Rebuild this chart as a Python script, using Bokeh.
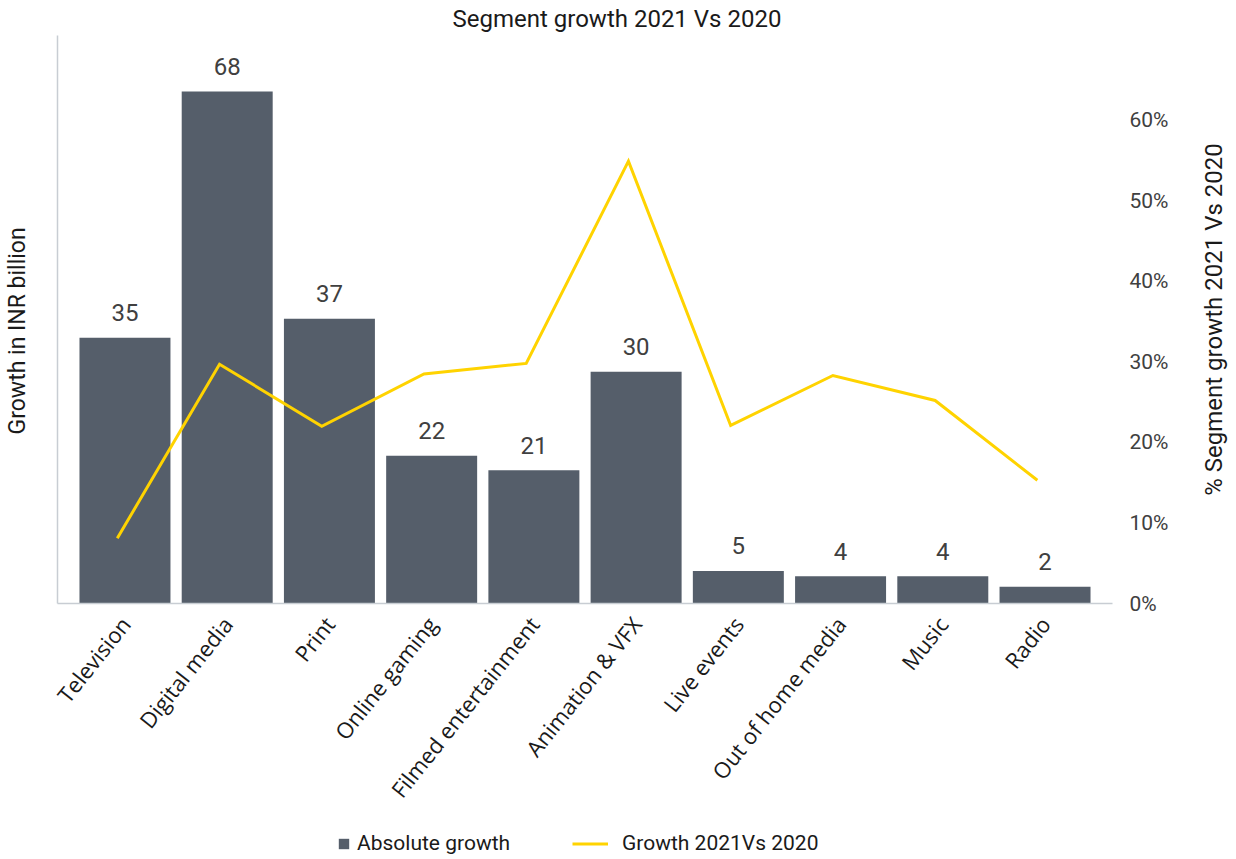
import math
from bokeh.plotting import figure
from bokeh.layouts import column, row
from bokeh.models import (ColumnDataSource, FactorRange, Range1d, LinearAxis, FixedTicker,
                          Legend, LegendItem, NumeralTickFormatter)
from bokeh.transform import dodge
from bokeh.core.properties import value
from bokeh.embed import file_html
from bokeh.resources import INLINE

categories = ["Television", "Digital media", "Print", "Online gaming", "Filmed entertainment",
              "Animation & VFX", "Live events", "Out of home media", "Music", "Radio"]
bar_heights = [35.1, 67.6, 37.6, 19.5, 17.6, 30.6, 4.3, 3.6, 3.6, 2.2]
bar_labels = ["35", "68", "37", "22", "21", "30", "5", "4", "4", "2"]
growth_pct = [0.081, 0.297, 0.220, 0.285, 0.298, 0.549, 0.221, 0.283, 0.252, 0.153]
pct_ticks = [0, 0.1, 0.2, 0.3, 0.4, 0.5, 0.6]

BAR_COLOR = "#555e6a"
LINE_COLOR = "#ffd300"
AXIS_COLOR = "#c8cdd3"
FONT = "Roboto"
PW = 1196
W = 1230
PH = 816
BOTTOM = PH - 603

src = ColumnDataSource(dict(cat=categories, h=bar_heights, lbl=bar_labels, pct=growth_pct))

p = figure(width=PW, height=PH,
           x_range=FactorRange(factors=categories, range_padding=0.16, range_padding_units="absolute"),
           y_range=Range1d(0, 75),
           output_backend="svg", toolbar_location=None,
           min_border_left=57, min_border_right=PW - 1112, min_border_top=35, min_border_bottom=BOTTOM)
p.extra_y_ranges = {"pct": Range1d(0, 0.705)}

p.title.text = "Segment growth 2021 Vs 2020"
p.title.align = "left"
p.title.offset = 395
p.title.standoff = 5
p.title.text_font = FONT
p.title.text_font_size = "24px"
p.title.text_font_style = "normal"
p.title.text_color = "#1a1a1a"

p.xgrid.visible = False
p.ygrid.visible = False
p.outline_line_color = None
p.background_fill_color = "white"

bars = p.vbar(x="cat", top="h", width=0.89, source=src, fill_color=BAR_COLOR, line_color=None)
p.text(x="cat", y="h", text="lbl", source=src, text_align="center", text_baseline="alphabetic",
       y_offset=-25, text_font=value(FONT), text_font_size="24px", text_color="#404040")
line = p.line(x=dodge("cat", -0.075, range=p.x_range), y="pct", y_range_name="pct", source=src,
              line_color=LINE_COLOR, line_width=3, line_join="miter")

# x axis
xa = p.xaxis[0]
xa.major_label_orientation = 0.9
xa.major_label_text_font = "Open Sans"
xa.major_label_text_font_size = "22px"
xa.major_label_text_color = "#1a1a1a"
xa.major_tick_out = 0
xa.major_tick_in = 0
xa.axis_line_color = AXIS_COLOR
xa.axis_line_width = 1.5
xa.major_label_standoff = 16

# left axis
ya = p.yaxis[0]
ya.ticker = FixedTicker(ticks=[])
ya.major_tick_out = 0
ya.major_tick_in = 0
ya.minor_tick_out = 0
ya.minor_tick_in = 0
ya.major_label_standoff = 0
ya.axis_line_color = AXIS_COLOR
ya.axis_line_width = 1.5
ya.axis_label = "Growth in INR billion" + "\u00a0" * 4
ya.axis_label_standoff = 27
ya.axis_label_text_font = FONT
ya.axis_label_text_font_size = "23px"
ya.axis_label_text_font_style = "normal"
ya.axis_label_text_color = "#1a1a1a"

# right axis (percent)
ra = LinearAxis(y_range_name="pct", ticker=FixedTicker(ticks=pct_ticks),
                formatter=NumeralTickFormatter(format="0%"))
ra.axis_line_color = None
ra.major_tick_out = 0
ra.major_tick_in = 0
ra.minor_tick_out = 0
ra.minor_tick_in = 0
ra.major_label_standoff = 17
ra.major_label_text_font = FONT
ra.major_label_text_font_size = "21px"
ra.major_label_text_color = "#404040"
p.add_layout(ra, "right")

# narrow strip holding the right-hand axis title (reads bottom-to-top)
p3 = figure(width=W - PW, height=PH, x_range=Range1d(0, 1), y_range=Range1d(0, 1),
            output_backend="svg", toolbar_location=None, x_axis_type=None,
            min_border_left=30, min_border_right=0, min_border_top=35, min_border_bottom=BOTTOM)
p3.xgrid.visible = False
p3.ygrid.visible = False
p3.outline_line_color = None
ta = p3.yaxis[0]
ta.ticker = FixedTicker(ticks=[])
ta.axis_line_color = None
ta.major_tick_out = 0
ta.major_tick_in = 0
ta.minor_tick_out = 0
ta.minor_tick_in = 0
ta.major_label_standoff = 0
ta.axis_label = "% Segment growth 2021 Vs 2020"
ta.axis_label_standoff = 0
ta.axis_label_text_font = FONT
ta.axis_label_text_font_size = "24px"
ta.axis_label_text_font_style = "normal"
ta.axis_label_text_color = "#1a1a1a"

# legend strip
LH = 856 - PH
p2 = figure(width=W, height=LH, x_range=p.x_range, y_range=Range1d(100, 100 + LH),
            output_backend="svg", toolbar_location=None, x_axis_type=None, y_axis_type=None,
            min_border_left=57, min_border_right=W - 1112, min_border_top=0, min_border_bottom=0)
p2.extra_y_ranges = {"pct": Range1d(100, 100 + LH)}
p2.xgrid.visible = False
p2.ygrid.visible = False
p2.outline_line_color = None
lb = p2.vbar(x="cat", top="h", width=0, source=src, fill_color=BAR_COLOR, line_color=None)
ll = p2.line(x="cat", y="pct", y_range_name="pct", source=src, line_color=LINE_COLOR, line_width=3)

common = dict(padding=0, margin=0, border_line_color=None, background_fill_alpha=0,
              label_text_font=FONT, label_text_font_size="21px", label_text_color="#1a1a1a",
              orientation="horizontal")
leg1 = Legend(items=[LegendItem(label="Absolute growth", renderers=[lb])],
              location=(280, 1), glyph_width=13, glyph_height=13, label_standoff=7, **common)
leg2 = Legend(items=[LegendItem(label="Growth 2021Vs 2020", renderers=[ll])],
              location=(515, 1), glyph_width=36, glyph_height=13, label_standoff=14, **common)
p2.add_layout(leg1)
p2.add_layout(leg2)

open("out.html", "w").write(file_html(column(row(p, p3), p2), INLINE))
